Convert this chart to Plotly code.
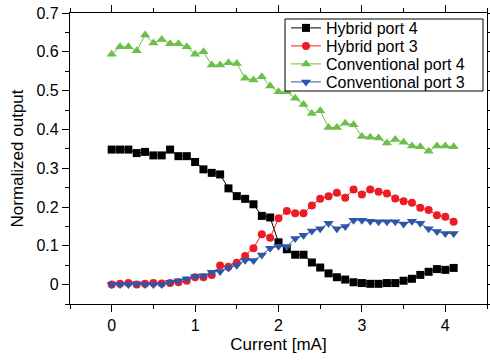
import plotly.graph_objects as go

current = [round(0.1 * i, 1) for i in range(42)]

hybrid_port4 = [0.348, 0.348, 0.348, 0.339, 0.342, 0.333, 0.333, 0.348, 0.331, 0.331,
                0.316, 0.297, 0.288, 0.284, 0.248, 0.228, 0.221, 0.207, 0.177, 0.173,
                0.109, 0.091, 0.077, 0.077, 0.057, 0.044, 0.029, 0.019, 0.013, 0.006,
                0.004, 0.002, 0.002, 0.004, 0.004, 0.010, 0.015, 0.025, 0.033, 0.040,
                0.038, 0.043]

hybrid_port3 = [0.000, 0.002, 0.004, 0.000, 0.002, 0.004, 0.003, 0.004, 0.006, 0.010,
                0.019, 0.019, 0.025, 0.049, 0.046, 0.056, 0.074, 0.094, 0.130, 0.121,
                0.171, 0.190, 0.184, 0.184, 0.204, 0.221, 0.228, 0.237, 0.224, 0.245,
                0.232, 0.245, 0.239, 0.235, 0.222, 0.215, 0.211, 0.198, 0.192, 0.179,
                0.175, 0.162]

conventional_port4 = [0.594, 0.613, 0.613, 0.603, 0.643, 0.623, 0.632, 0.621, 0.621, 0.613,
                      0.594, 0.600, 0.566, 0.566, 0.572, 0.570, 0.532, 0.527, 0.536, 0.512,
                      0.497, 0.497, 0.480, 0.464, 0.441, 0.448, 0.405, 0.405, 0.416, 0.412,
                      0.382, 0.380, 0.378, 0.365, 0.374, 0.367, 0.357, 0.355, 0.344, 0.357,
                      0.357, 0.355]

conventional_port3 = [0.000, 0.000, 0.000, 0.002, 0.000, 0.000, 0.000, 0.006, 0.010, 0.015,
                      0.021, 0.023, 0.032, 0.034, 0.043, 0.050, 0.063, 0.062, 0.076, 0.094,
                      0.099, 0.098, 0.119, 0.127, 0.138, 0.144, 0.158, 0.144, 0.150, 0.166,
                      0.166, 0.163, 0.162, 0.162, 0.162, 0.156, 0.163, 0.158, 0.144, 0.137,
                      0.132, 0.132]

x_ticks = [0, 1, 2, 3, 4]
y_ticks = [0, 0.1, 0.2, 0.3, 0.4, 0.5, 0.6, 0.7]
y_tick_labels = ["0", "0.1", "0.2", "0.3", "0.4", "0.5", "0.6", "0.7"]

series_names = ["Hybrid port 4", "Hybrid port 3", "Conventional port 4", "Conventional port 3"]
series_values = [hybrid_port4, hybrid_port3, conventional_port4, conventional_port3]
series_colors = ["#000000", "#ed1c24", "#6cbf4a", "#2f56a6"]
series_symbols = ["square", "circle", "triangle-up", "triangle-down"]
series_sizes = [8, 8, 9, 9]

font_family = "Liberation Sans, Arial, sans-serif"

W, H = 490, 364
ml, mr, mt, mb = 70, 3, 13, 60
plot_w = W - ml - mr
plot_h = H - mt - mb

def px_to_paper_x(px):
    return (px - ml) / plot_w

def px_to_paper_y(py):
    return 1 - (py - mt) / plot_h

legend_keys = ["legend", "legend2", "legend3", "legend4"]
legend_centers_px = [28, 46, 64, 82]

fig = go.Figure()
for i in range(4):
    fig.add_trace(go.Scatter(
        x=current, y=series_values[i], name=series_names[i], mode="lines+markers",
        line=dict(color=series_colors[i], width=1),
        marker=dict(symbol=series_symbols[i], size=series_sizes[i],
                    color=series_colors[i], line=dict(width=0)),
        legend=legend_keys[i],
    ))

axis_common = dict(
    showline=True, linecolor="black", linewidth=1.2, mirror="ticks",
    ticks="outside", tickcolor="black", ticklen=7, tickwidth=1,
    showgrid=False, zeroline=False, automargin=False,
    tickfont=dict(family=font_family, size=16, color="black"),
)

fig.update_xaxes(
    range=[-0.5, 4.5], tickvals=x_ticks, ticktext=[str(v) for v in x_ticks],
    title=dict(text="Current [mA]", font=dict(family=font_family, size=17, color="black"), standoff=4),
    minor=dict(dtick=0.5, tick0=0, ticks="outside", ticklen=4, tickcolor="black", showgrid=False),
    **axis_common,
)
fig.update_yaxes(
    range=[-0.05, 0.7], tickvals=y_ticks, ticktext=y_tick_labels,
    title=dict(text="Normalized output", font=dict(family=font_family, size=17, color="black"), standoff=8),
    minor=dict(dtick=0.05, tick0=0, ticks="outside", ticklen=4, tickcolor="black", showgrid=False),
    **axis_common,
)

# legend frame (white box with black border)
fig.add_shape(
    type="rect", xref="paper", yref="paper",
    x0=px_to_paper_x(285), x1=px_to_paper_x(483),
    y0=px_to_paper_y(91), y1=px_to_paper_y(19),
    fillcolor="white", line=dict(color="black", width=1), layer="above",
)

legend_layouts = {}
for key, cy in zip(legend_keys, legend_centers_px):
    legend_layouts[key] = dict(
        x=px_to_paper_x(286), y=px_to_paper_y(cy), xanchor="left", yanchor="middle",
        bgcolor="rgba(0,0,0,0)", borderwidth=0,
        font=dict(family=font_family, size=16, color="black"),
        itemwidth=30,
    )

fig.update_layout(
    width=W, height=H,
    margin=dict(l=ml, r=mr, t=mt, b=mb),
    paper_bgcolor="white", plot_bgcolor="white",
    font=dict(family=font_family, size=16, color="black"),
    showlegend=True,
    **legend_layouts,
)

fig.write_html("out.html", config={"displayModeBar": False},
               post_script="document.body.style.margin='0';")
